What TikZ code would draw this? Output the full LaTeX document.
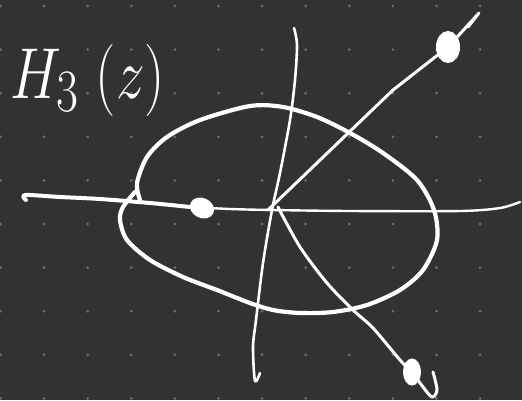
\documentclass[tikz,border=0pt]{standalone}
\usetikzlibrary{calc,shapes.geometric}
\definecolor{board}{HTML}{323232}
\definecolor{griddot}{HTML}{6E6E6E}
\begin{document}
\begin{tikzpicture}[
  x=1pt,y=-1pt,
  chalk/.style={white,line cap=round,line join=round},
  loopline/.style={chalk,line width=4.2pt},
  axisline/.style={chalk,line width=2.6pt},
  ray/.style={chalk,line width=3pt},
  blob/.style={fill=white,draw=white,line width=1pt}
]
% board and dot grid
\fill[board] (0,0) rectangle (522,400);
\useasboundingbox (0,0) rectangle (522,400);
\foreach \i in {0,...,11}{
  \foreach \j in {0,...,9}{
    \fill[griddot] (0.5+43.6*\i,6+43.6*\j) circle (1.5);
  }
}
% label
\node[white,anchor=base west,font=\Huge,xscale=2.3,yscale=2.9,inner sep=0pt] (lbl) at (10,98) {$H_{3}\;(z)$};
% axes
\coordinate (o) at (272,210);
\draw[chalk,line width=4pt] plot[smooth] coordinates {(26,200) (25,195) (60,197) (100,199) (150,203) (190,207)};
\draw[chalk,line width=2.4pt] plot[smooth] coordinates {(190,207) (230,209) (o) (350,211) (460,211) (500,208) (520,202)};
\draw[axisline] plot[smooth] coordinates {(294,28) (297,45) (295,80) (290,120) (280,173) (o) (263,263) (256,320) (253,347) (255,381) (260,373)};
% loop
\draw[loopline] plot[smooth] coordinates {(140,200) (137,183) (147,157) (167,137) (200,120) (250,106) (283,107) (317,117) (350,133) (383,153) (417,180) (434,210) (437,240) (423,270) (400,290) (367,305) (333,312) (300,313) (273,310) (250,303) (217,290) (183,277) (150,260) (127,240) (120,220) (123,207) (135,192)};
% rays
\draw[ray] (268,210) -- (393,90) -- (448,47) -- (479,13) -- (468,27);
\draw[ray] plot[smooth] coordinates {(278,207) (300,247) (327,283) (353,310) (373,328) (400,360) (412,372) (423,387) (432,397) (437,390) (433,372)};
% points
\fill[white,rotate around={-25:(202,208)}] (202,208) ellipse (12.5 and 10);
\node[blob,ellipse,minimum width=23pt,minimum height=31pt,inner sep=0pt] (p1) at (448,47) {};
\node[blob,ellipse,minimum width=17pt,minimum height=26pt,inner sep=0pt] (p2) at (412,372) {};
\end{tikzpicture}
\end{document}
